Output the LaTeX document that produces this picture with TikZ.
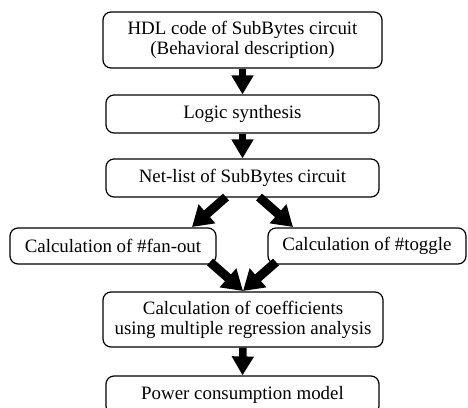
\documentclass[tikz,border=0pt]{standalone}
\usepackage{fontspec}
\setmainfont{Liberation Serif}
\usetikzlibrary{arrows.meta}
\begin{document}
\begin{tikzpicture}[x=1pt,y=-1pt,
  box/.style={draw, line width=1.2pt, rounded corners=8pt, inner sep=0pt,
    align=center, font=\fontsize{18.9}{20}\selectfont},
  flow/.style={line width=7.5pt, -{Triangle[width=21pt,length=19pt]}},
  dflow/.style={line width=9pt, -{Triangle[width=24pt,length=20pt]}}]
  \useasboundingbox (0,0) rectangle (468,407);
  \begin{scope}
  \clip (0,0) rectangle (468,407);
  \node[box, minimum width=279pt, minimum height=56pt] (hdl) at (242.5,40)
    {HDL code of SubBytes circuit\\(Behavioral description)};
  \node[box, minimum width=273pt, minimum height=38pt] (syn) at (242.5,114)
    {Logic synthesis};
  \node[box, minimum width=273pt, minimum height=38pt] (net) at (242.5,178)
    {Net-list of SubBytes circuit};
  \node[box, minimum width=206pt, minimum height=36pt] (fan) at (113,246)
    {Calculation of \#fan-out};
  \node[box, minimum width=198pt, minimum height=36pt] (tog) at (367,246)
    {Calculation of \#toggle};
  \node[box, minimum width=280pt, minimum height=55pt] (coef) at (243,319.5)
    {Calculation of coefficients\\using multiple regression analysis};
  \node[box, minimum width=273pt, minimum height=38pt] (pow) at (242.5,395)
    {Power consumption model};
  \end{scope}
  % straight flow arrows
  \draw[flow] (hdl.south) -- (syn.north);
  \draw[flow] (syn.south) -- (net.north);
  \draw[flow] (coef.south) -- (pow.north);
  % branching to the two calculations
  \coordinate (nl) at (226,197);
  \coordinate (nr) at (259,197);
  \coordinate (tl) at (192,227);
  \coordinate (tr) at (293,227);
  \draw[dflow] (nl) -- (tl);
  \draw[dflow] (nr) -- (tr);
  % merging into the regression step
  \coordinate (fl) at (210,262);
  \coordinate (fr) at (276,262);
  \coordinate (mc) at (243,291);
  \draw[dflow] (fl) -- (mc);
  \draw[dflow] (fr) -- (mc);
\end{tikzpicture}
\end{document}
